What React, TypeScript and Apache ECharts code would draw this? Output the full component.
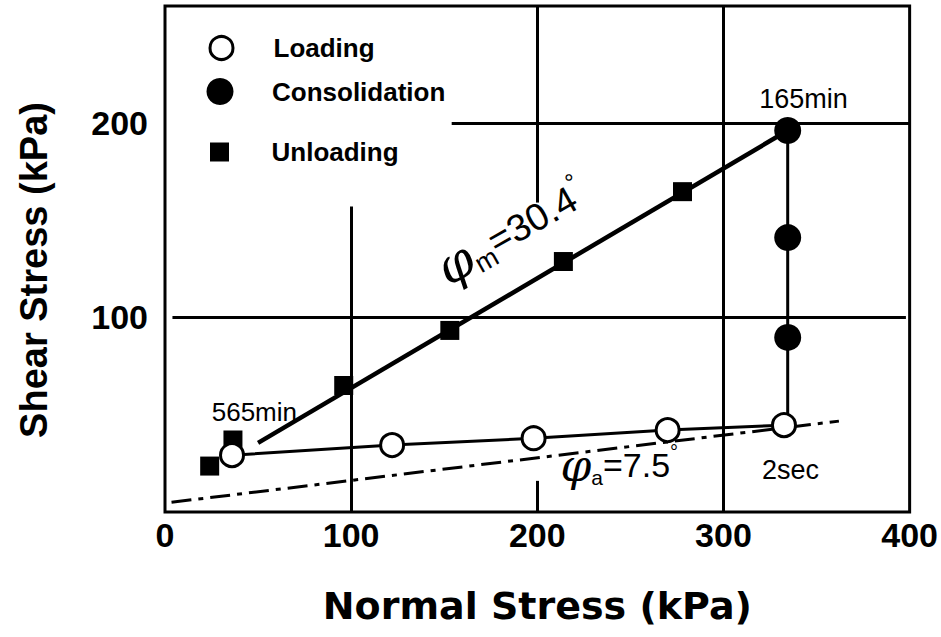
import React, { useEffect, useRef } from "react";
import * as echarts from "echarts";

// ---- data ----
const loading: number[][] = [[36, 29.2], [122, 34.4], [198, 37.9], [270, 42.1], [332.5, 44.6]];
const consolidation: number[][] = [[334.5, 196], [334.5, 141], [334.5, 89.7]];
const unloading: number[][] = [[24, 23.6], [36.5, 37], [96, 65], [153, 93.3], [214, 128.7], [278, 164.6]];
const envelopeM: number[][] = [[50, 35.5], [334.5, 196]];
const envelopeA: number[][] = [[3.5, 5], [362, 46.7]];
const xTicks = [0, 100, 200, 300, 400];
const yTicks = [100, 200];
// partial reference grid lines [from, to] in data units
const gridSegments: number[][][] = [
  [[100, 157], [100, 0]],
  [[200, 260], [200, 159]],
  [[200, 16], [200, 0]],
  [[300, 260], [300, 0]],
  [[154, 200], [400, 200]],
  [[4, 100], [398, 100]],
];
const notePos165 = [343, 212];
const notePos565 = [48, 51.5];
const notePos2sec = [336, 21.5];
const notePhiM = [186, 144];
const notePhiA = [244, 24];

const FONT = "'Liberation Sans', Arial, sans-serif";

export default function App() {
  const ref = useRef<HTMLDivElement>(null);
  useEffect(() => {
    if (!ref.current) return;
    const chart = echarts.init(ref.current, undefined, { renderer: "svg" });
    const noteStyle = { color: "#000", fontFamily: FONT, fontSize: 27, opacity: 1 };
    const legendText = { fontFamily: FONT, fontWeight: "bold", fontSize: 26, color: "#000" };
    const lastLoad = loading[loading.length - 1];
    const option: any = {
      animation: false,
      backgroundColor: "#fff",
      grid: {
        show: true,
        left: 165,
        right: 24,
        top: 6,
        bottom: 125,
        borderColor: "#000",
        borderWidth: 3,
      },
      legend: [
        {
          left: 208.5, top: 35, padding: 0, selectedMode: false, itemWidth: 94, itemHeight: 23,
          textStyle: legendText,
          data: [{ name: "Loading", icon: "circle", itemStyle: { color: "#fff", borderColor: "#000", borderWidth: 3 } }],
        },
        {
          left: 206.5, top: 78, padding: 0, selectedMode: false, itemWidth: 94, itemHeight: 27,
          textStyle: legendText,
          data: [{ name: "Consolidation", icon: "circle", itemStyle: { color: "#000", borderWidth: 0 } }],
        },
        {
          left: 210, top: 139, padding: 0, selectedMode: false, itemWidth: 94, itemHeight: 19,
          symbolKeepAspect: true,
          textStyle: legendText,
          data: [{ name: "Unloading", icon: "path://M0 0H10V10H0Z", itemStyle: { color: "#000", borderWidth: 0, opacity: 1 } }],
        },
      ],
      xAxis: {
        type: "value",
        min: 0,
        max: 400,
        interval: 100,
        name: "Normal Stress (kPa)",
        nameLocation: "middle",
        nameGap: 75,
        nameTextStyle: { fontFamily: "'DejaVu Sans', sans-serif", fontWeight: "bold", fontSize: 38, color: "#000" },
        axisLine: { show: false },
        axisTick: { show: false },
        splitLine: { show: false },
        axisLabel: {
          margin: 6,
          fontFamily: FONT,
          fontWeight: "bold",
          fontSize: 34,
          color: "#000",
          formatter: (v: number) => (xTicks.includes(v) ? String(v) : ""),
        },
      },
      yAxis: {
        type: "value",
        min: 0,
        max: 260,
        interval: 100,
        name: "Shear Stress (kPa)",
        nameLocation: "middle",
        nameGap: 112,
        nameTextStyle: { fontFamily: FONT, fontWeight: "bold", fontSize: 38, color: "#000", padding: [0, 22, 0, 0] },
        axisLine: { show: false },
        axisTick: { show: false },
        splitLine: { show: false },
        axisLabel: {
          margin: 17,
          fontFamily: FONT,
          fontWeight: "bold",
          fontSize: 34,
          color: "#000",
          padding: [22, 0, 0, 0],
          formatter: (v: number) => (yTicks.includes(v) ? String(v) : ""),
        },
      },
      series: [
        {
          name: "gridlines",
          type: "line",
          data: [],
          silent: true,
          markLine: {
            silent: true,
            symbol: "none",
            label: { show: false },
            lineStyle: { color: "#000", width: 3, type: "solid", opacity: 1 },
            emphasis: { disabled: true },
            data: gridSegments.map((s) => [{ coord: s[0] }, { coord: s[1] }]),
          },
        },
        {
          name: "phi_a",
          type: "line",
          data: envelopeA,
          symbol: "none",
          silent: true,
          lineStyle: { color: "#000", width: 3, type: [20, 7, 5, 7] },
        },
        {
          name: "phi_m",
          type: "line",
          data: envelopeM,
          symbol: "none",
          silent: true,
          lineStyle: { color: "#000", width: 4.5 },
        },
        {
          name: "Unloading",
          type: "scatter",
          data: unloading,
          symbol: "rect",
          symbolSize: 19,
          itemStyle: { color: "#000", opacity: 1 },
        },
        {
          name: "Consolidation",
          type: "line",
          data: [
            ...consolidation,
            { value: [consolidation[0][0], lastLoad[1]], symbol: "none" },
          ],
          symbol: "circle",
          symbolSize: 27,
          itemStyle: { color: "#000", opacity: 1 },
          lineStyle: { color: "#000", width: 3 },
        },
        {
          name: "Loading",
          type: "line",
          data: loading,
          symbol: "circle",
          symbolSize: 23,
          itemStyle: { color: "#fff", borderColor: "#000", borderWidth: 3, opacity: 1 },
          lineStyle: { color: "#000", width: 3 },
        },
        {
          name: "notes",
          type: "scatter",
          symbolSize: 0,
          silent: true,
          itemStyle: { opacity: 1 },
          label: { show: true, position: "inside", ...noteStyle },
          data: [
            { value: notePos165, label: { formatter: "165min" } },
            { value: notePos565, label: { formatter: "565min", fontSize: 26 } },
            { value: notePos2sec, label: { formatter: "2sec" } },
            {
              value: notePhiM,
              label: {
                rotate: 29.5,
                formatter: "{p|φ}{s|m}{t|=30.4}{d|°}",
                rich: {
                  p: { fontFamily: "'DejaVu Serif', serif", fontStyle: "italic", fontSize: 50, lineHeight: 52, color: "#000" },
                  s: { fontFamily: FONT, fontSize: 27, lineHeight: 30, verticalAlign: "bottom", color: "#000" },
                  t: { fontFamily: FONT, fontSize: 38, lineHeight: 52, color: "#000" },
                  d: { fontFamily: FONT, fontSize: 24, lineHeight: 28, verticalAlign: "top", color: "#000" },
                },
              },
            },
            {
              value: notePhiA,
              label: {
                formatter: "{p|φ}{s|a}{t|=7.5}{d|°}",
                rich: {
                  p: { fontFamily: "'DejaVu Serif', serif", fontStyle: "italic", fontSize: 44, lineHeight: 46, color: "#000" },
                  s: { fontFamily: FONT, fontSize: 21, lineHeight: 22, verticalAlign: "bottom", color: "#000" },
                  t: { fontFamily: FONT, fontSize: 34, lineHeight: 46, color: "#000" },
                  d: { fontFamily: FONT, fontSize: 20, lineHeight: 26, verticalAlign: "top", color: "#000" },
                },
              },
            },
          ],
        },
      ],
    };
    chart.setOption(option);
    return () => chart.dispose();
  }, []);
  return <div ref={ref} style={{ width: 941, height: 637, position: "absolute", left: 0, top: 0 }} />;
}
